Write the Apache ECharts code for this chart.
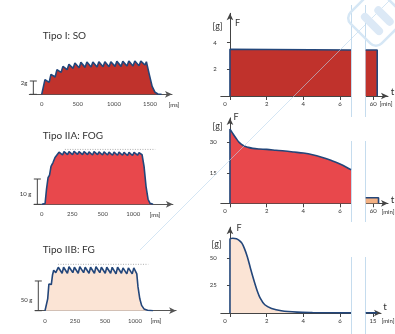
<!DOCTYPE html>
<html><head><meta charset="utf-8">
<script src="https://cdn.jsdelivr.net/npm/echarts@6/dist/echarts.min.js"></script>
<style>html,body{margin:0;padding:0;background:#fff}#c{width:395px;height:334px}</style>
</head><body><div id="c"></div>
<script>
// ---------------- DATA ----------------
const panelTitles = ['Tipo I: SO', 'Tipo IIA: FOG', 'Tipo IIB: FG'];
// Left column: single tetanic contraction
const soTicks = [0, 500, 1000, 1500];            // ms
const soT = [0,20,45,103,128,186,211,269,294,352,377,435,460,518,543,601,626,684,709,767,792,850,875,933,958,1016,1041,1099,1124,1182,1207,1265,1290,1348,1373,1431,1450,1490,1530,1570,1610,1660];
const soF = [0,0,2.2,1.8,3.0,2.6,3.7,3.3,4.2,3.7,4.5,3.9,4.7,4.0,4.8,4.05,4.85,4.1,4.85,4.1,4.9,4.15,4.9,4.15,4.9,4.2,4.95,4.2,4.95,4.25,5.0,4.25,5.0,4.3,5.0,4.4,4.9,3.0,1.2,0.3,0.05,0];
const soScale = 2;  // g

const fastTickLabels = ['0', '250', '500', '1000'];   // evenly spaced tick marks
const fastTickPos = [0, 1, 2, 3];
const fogU = [0,0.11,0.157,0.207,0.256,0.305,0.37,0.436,0.5,0.567,0.682,0.731,0.846,0.895,1.010,1.059,1.174,1.223,1.338,1.387,1.502,1.551,1.666,1.715,1.830,1.879,1.994,2.043,2.158,2.207,2.322,2.370,2.485,2.534,2.649,2.698,2.813,2.862,2.977,3.026,3.141,3.190,3.289,3.354,3.420,3.485,3.551,3.649];
const fogF = [0,0.3,6,10.5,11.5,15,16.5,18.5,18.0,20.6,19.5,20.8,19.6,20.8,19.6,20.9,19.7,20.8,19.6,20.8,19.6,20.7,19.5,20.8,19.6,20.7,19.5,20.7,19.5,20.6,19.4,20.6,19.4,20.6,19.4,20.5,19.3,20.5,19.3,20.5,19.4,20.4,19.6,15,7,2,0.4,0];
const fogRef = {from: 0.76, to: 3.72, level: 21.7};
const fogScale = 10;

const fgU = [0,0.05,0.09,0.13,0.17,0.21,0.25,0.29,0.36,0.443,0.57,0.62,0.747,0.80,0.927,0.98,1.107,1.16,1.287,1.34,1.467,1.52,1.647,1.70,1.827,1.88,2.007,2.06,2.187,2.24,2.367,2.42,2.547,2.60,2.727,2.78,2.907,2.96,3.06,3.10,3.16,3.22,3.30,3.42,3.6];
const fgF = [0,0,20,45,47,44,60,68,64,73,63,73,63,74,64,73,63,74,64,73,63,73,63,74,64,73,63,73,63,73,62,73,63,72,62,72,62,72,62,40,20,9,3,0.8,0];
const fgRef = {from: 0.433, to: 3.443, level: 78};
const fgScale = 50;

// Right column: fatigue over minutes
const minTicks = [0, 2, 4, 6];
const r1T = [0, 0, 6.6];
const r1F = [0, 3.5, 3.45];
const r1LateT = [59.6, 60.22, 60.22];
const r1LateF = [3.45, 3.45, 0];
const r1YTicks = [2, 4];

const r2T = [0,0,0.15,0.33,0.5,0.77,1.0,1.24,1.6,2,2.5,3,3.5,4,4.5,5,5.5,6,6.3,6.6];
const r2F = [0,36.5,34.4,32,30,28.2,27.5,27,26.7,26.5,26.1,25.7,25.2,24.7,23.9,22.7,21.2,19.3,18,16.5];
const r2LateT = [59.6, 60.29, 60.29];
const r2LateF = [2.75, 2.75, 0];
const r2YTicks = [15, 30];

const r3T = [0,0,0.15,0.35,0.5,0.65,0.78,0.95,1.12,1.3,1.47,1.65,1.9,2.27,2.8,3.66,4.5,5.5,6.6];
const r3F = [0,67,68,67.5,66,63.5,59,51,40.5,30,21,13.5,7.5,4.2,2.1,0.8,0.4,0.2,0.1];
const r3LateT = [14.6, 15.2];
const r3LateF = [0.1, 0.1];
const r3YTicks = [25, 50];

const lateTick12 = 60, lateTick3 = 15;

// ---------------- STYLE ----------------
const FONT = 'Lato, "Liberation Sans", sans-serif';
const OUT = '#23467a';
const C_SO = '#c0322c', C_FOG = '#e8484c', C_FG = '#fbe4d5', C_LATE = '#f4b183';
const AX = '#444';
const zip = (a, b) => a.map((v, i) => [v, b[i]]);

const chart = echarts.init(document.getElementById('c'), null, {renderer: 'canvas'});

function leftX(grid, min, max, vals, fmt) {
  return {type: 'value', gridIndex: grid, min, max, splitLine: {show: false},
    axisLine: {lineStyle: {color: '#555', width: 1}, symbol: ['none', 'arrow'], symbolSize: [5, 7]},
    axisTick: {show: false},
    axisLabel: {customValues: vals, formatter: fmt, fontSize: 6, color: '#444', margin: 7, fontFamily: FONT}};
}
function rightX(grid, min, max, vals, arrow, fmt) {
  return {type: 'value', gridIndex: grid, min, max, splitLine: {show: false},
    axisLine: {lineStyle: {color: AX, width: 1}, symbol: arrow ? ['none', 'arrow'] : 'none', symbolSize: [5, 7]},
    axisTick: {customValues: vals, length: 4, lineStyle: {color: AX}},
    axisLabel: {customValues: vals, fontSize: 6, color: '#333', margin: 5, fontFamily: FONT,
      formatter: fmt, rich: {z: {padding: [0, 10, 0, 0], fontSize: 6, fontFamily: FONT, color: '#333'}}}};
}
const zeroLeft = v => v === 0 ? '{z|0}' : String(v);
function hiddenY(grid, max) { return {type: 'value', gridIndex: grid, min: 0, max, show: false}; }
function rightY(grid, max, ticks) {
  return {type: 'value', gridIndex: grid, min: 0, max, splitLine: {show: false},
    axisLine: {lineStyle: {color: AX, width: 1}, symbol: ['none', 'arrow'], symbolSize: [5, 7]},
    axisTick: {customValues: ticks, length: 3, lineStyle: {color: AX}},
    axisLabel: {customValues: ticks, fontSize: 6, color: '#333', margin: 4, fontFamily: FONT}};
}
function area(xi, data, fill, smooth) {
  return {type: 'line', xAxisIndex: xi, yAxisIndex: xi, data, showSymbol: false, smooth: smooth || false,
    lineStyle: {color: OUT, width: 1.6}, areaStyle: {color: fill, opacity: 1}, silent: true, z: 3};
}
function dotted(xi, ref) {
  return {type: 'line', xAxisIndex: xi, yAxisIndex: xi, data: [[ref.from, ref.level], [ref.to, ref.level]],
    showSymbol: false, lineStyle: {color: '#999', width: 0.8, type: [1, 1.5]}, z: 2};
}
function scaleBar(xi, xPos, value, text, dy) {
  return {type: 'custom', xAxisIndex: xi, yAxisIndex: xi, data: [[xPos, value]], z: 4,
    renderItem: (params, api) => {
      const b = api.coord([api.value(0), 0]);
      const t = api.coord([api.value(0), api.value(1)]);
      const st = {stroke: '#444', lineWidth: 1};
      return {type: 'group', children: [
        {type: 'line', shape: {x1: b[0], y1: b[1], x2: t[0], y2: t[1]}, style: st},
        {type: 'line', shape: {x1: t[0] - 3.5, y1: t[1], x2: t[0] + 3.5, y2: t[1]}, style: st},
        {type: 'line', shape: {x1: b[0] - 3.5, y1: b[1], x2: b[0] + 3.5, y2: b[1]}, style: st},
        {type: 'text', x: b[0] - 6, y: (b[1] + t[1]) / 2 + dy,
          style: {text, fontSize: 6, fill: '#333', align: 'right', verticalAlign: 'middle', fontFamily: FONT}}
      ]};
    }};
}
function txt(x, y, text, size, align, extra) {
  return Object.assign({type: 'text', x, y, z: 50,
    style: {text, fontSize: size, fill: '#333', fontFamily: FONT, align: align || 'center', verticalAlign: 'middle'}}, extra || {});
}

const option = {
  animation: false,
  backgroundColor: '#fff',
  grid: [
    {left: 29.3, top: 54.4, width: 142.7, height: 39.9},
    {left: 34.1, top: 143.6, width: 138.8, height: 60.7},
    {left: 35.1, top: 257.2, width: 141, height: 53.5},
    {left: 220.8, top: 13.3, width: 130.2, height: 82.7},
    {left: 365.7, top: 13.3, width: 22.3, height: 82.7},
    {left: 220.8, top: 117.9, width: 130.2, height: 85.4},
    {left: 365.7, top: 117.9, width: 22.3, height: 85.4},
    {left: 220.8, top: 227.2, width: 130.2, height: 85.8},
    {left: 365.7, top: 227.2, width: 15.3, height: 85.8}
  ],
  xAxis: [
    leftX(0, -172, 1805, soTicks, v => String(v)),
    leftX(1, -0.25, 4.3, fastTickPos, v => fastTickLabels[Math.round(v)]),
    leftX(2, -0.33, 4.37, fastTickPos, v => fastTickLabels[Math.round(v)]),
    rightX(3, -0.5, 6.6, minTicks, false, zeroLeft),
    rightX(4, 59.6, 60.8, [lateTick12], true, v => String(v)),
    rightX(5, -0.5, 6.6, minTicks, false, zeroLeft),
    rightX(6, 59.6, 60.8, [lateTick12], true, v => String(v)),
    rightX(7, -0.5, 6.6, minTicks, false, zeroLeft),
    rightX(8, 14.6, 15.43, [lateTick3], true, v => String(v))
  ],
  yAxis: [
    hiddenY(0, 6), hiddenY(1, 24), hiddenY(2, 90),
    rightY(3, 6.2, r1YTicks), hiddenY(4, 6.2),
    rightY(5, 42, r2YTicks), hiddenY(6, 42),
    rightY(7, 78, r3YTicks), hiddenY(8, 78)
  ],
  series: [
    area(0, zip(soT, soF), C_SO),
    scaleBar(0, -116, soScale, soScale + 'g', -5),
    area(1, zip(fogU, fogF), C_FOG),
    dotted(1, fogRef),
    scaleBar(1, -0.144, fogScale, fogScale + ' g', 2),
    area(2, zip(fgU, fgF), C_FG),
    dotted(2, fgRef),
    scaleBar(2, -0.223, fgScale, fgScale + ' g', 4),
    area(3, zip(r1T, r1F), C_SO),
    area(4, zip(r1LateT, r1LateF), C_SO),
    area(5, zip(r2T, r2F), C_FOG, 0.3),
    area(6, zip(r2LateT, r2LateF), C_LATE),
    area(7, zip(r3T, r3F), C_FG, 0.3),
    area(8, zip(r3LateT, r3LateF), C_FG)
  ],
  graphic: [
    txt(42.7, 36, panelTitles[0], 10, 'left'),
    txt(42.7, 136, panelTitles[1], 10, 'left'),
    txt(42.7, 249.5, panelTitles[2], 10, 'left'),
    txt(174, 104.8, '[ms]', 6),
    txt(155, 214.8, '[ms]', 6),
    txt(156, 321.2, '[ms]', 6),
    txt(217.5, 26.5, '[g]', 9), txt(237.5, 23.5, 'F', 9),
    txt(217.5, 126.5, '[g]', 9), txt(236, 117, 'F', 9),
    txt(216.5, 244, '[g]', 9), txt(239, 228.5, 'F', 9),
    txt(392.5, 92, 't', 10), txt(392.5, 200, 't', 10), txt(385, 307, 't', 10),
    txt(386, 104.5, '[min]', 6), txt(388, 211.8, '[min]', 6), txt(388, 321.5, '[min]', 6),
    // break lines
    {type: 'line', z: 1, shape: {x1: 351.5, y1: 5, x2: 351.5, y2: 117}, style: {stroke: '#c5dcee', lineWidth: 1}},
    {type: 'line', z: 1, shape: {x1: 351.5, y1: 141, x2: 351.5, y2: 222}, style: {stroke: '#c5dcee', lineWidth: 1}},
    {type: 'line', z: 1, shape: {x1: 351.5, y1: 257, x2: 351.5, y2: 334}, style: {stroke: '#c5dcee', lineWidth: 1}},
    {type: 'line', z: 1, shape: {x1: 365.5, y1: 5, x2: 365.5, y2: 117}, style: {stroke: '#c5dcee', lineWidth: 1}},
    {type: 'line', z: 1, shape: {x1: 365.5, y1: 141, x2: 365.5, y2: 222}, style: {stroke: '#c5dcee', lineWidth: 1}},
    {type: 'line', z: 1, shape: {x1: 365.5, y1: 257, x2: 365.5, y2: 334}, style: {stroke: '#c5dcee', lineWidth: 1}},
    // faint watermark
    {type: 'line', z: 40, shape: {x1: 140, y1: 250, x2: 390, y2: 0}, style: {stroke: '#b9d5ec', lineWidth: 1, opacity: 0.6}},
    {type: 'rect', z: 40, x: 376, y: 18, rotation: Math.PI / 4, shape: {x: -22, y: -22, width: 44, height: 44, r: 8},
      style: {fill: 'none', stroke: '#d6e7f5', lineWidth: 2.5}},
    {type: 'rect', z: 40, x: 372, y: 24, rotation: Math.PI / 4, shape: {x: -4, y: -14, width: 8, height: 28, r: 4},
      style: {fill: '#dce9f6'}},
    {type: 'rect', z: 40, x: 384, y: 16, rotation: Math.PI / 4, shape: {x: -4, y: -12, width: 8, height: 24, r: 4},
      style: {fill: '#dce9f6'}}
  ]
};
chart.setOption(option);
</script></body></html>
